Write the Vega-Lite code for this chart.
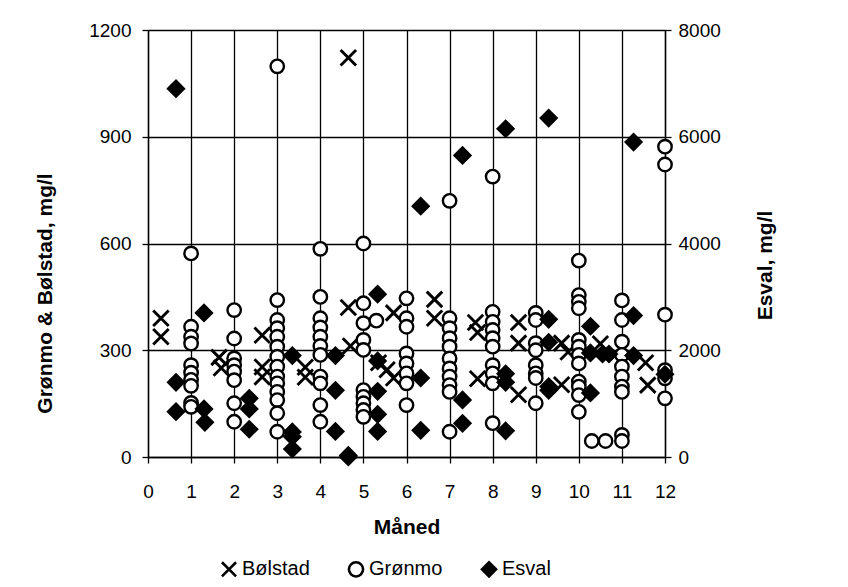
{
  "$schema": "https://vega.github.io/schema/vega-lite/v6.json",
  "width": 517,
  "height": 427,
  "autosize": {"type": "none"},
  "padding": {"left": 148, "top": 30, "right": 183, "bottom": 130},
  "background": "white",
  "config": {
    "font": "Liberation Sans",
    "view": {"stroke": null},
    "axis": {
      "labelFont": "Liberation Sans", "labelFontSize": 19, "labelColor": "black",
      "titleFont": "Liberation Sans", "titleFontSize": 21, "titleFontWeight": "bold", "titleColor": "black",
      "domainColor": "black", "domainWidth": 1.4, "tickColor": "black", "tickWidth": 1.3, "tickSize": 6,
      "gridColor": "black", "gridOpacity": 1, "gridWidth": 1.3
    },
    "legend": {
      "labelFont": "Liberation Sans", "labelFontSize": 20, "labelColor": "black",
      "symbolStrokeColor": "black", "symbolStrokeWidth": 2.5, "symbolSize": 200, "symbolOpacity": 1,
      "labelOffset": 3, "columnPadding": 33
    }
  },
  "datasets": {
    "pts": [
      {"series": "Bølstad", "month": 0.3, "value": 390},
      {"series": "Bølstad", "month": 0.3, "value": 338},
      {"series": "Bølstad", "month": 1.65, "value": 280},
      {"series": "Bølstad", "month": 1.7, "value": 250},
      {"series": "Bølstad", "month": 2.65, "value": 342},
      {"series": "Bølstad", "month": 2.65, "value": 253},
      {"series": "Bølstad", "month": 2.65, "value": 225},
      {"series": "Bølstad", "month": 3.65, "value": 252},
      {"series": "Bølstad", "month": 3.65, "value": 224},
      {"series": "Bølstad", "month": 4.65, "value": 1122},
      {"series": "Bølstad", "month": 4.65, "value": 420},
      {"series": "Bølstad", "month": 4.7, "value": 312},
      {"series": "Bølstad", "month": 5.35, "value": 265},
      {"series": "Bølstad", "month": 5.55, "value": 245},
      {"series": "Bølstad", "month": 5.7, "value": 405},
      {"series": "Bølstad", "month": 5.7, "value": 222},
      {"series": "Bølstad", "month": 6.65, "value": 443},
      {"series": "Bølstad", "month": 6.65, "value": 390},
      {"series": "Bølstad", "month": 7.6, "value": 378},
      {"series": "Bølstad", "month": 7.65, "value": 350},
      {"series": "Bølstad", "month": 7.65, "value": 220},
      {"series": "Bølstad", "month": 8.6, "value": 378},
      {"series": "Bølstad", "month": 8.6, "value": 320},
      {"series": "Bølstad", "month": 8.6, "value": 175},
      {"series": "Bølstad", "month": 9.6, "value": 320},
      {"series": "Bølstad", "month": 9.75, "value": 295},
      {"series": "Bølstad", "month": 9.6, "value": 203},
      {"series": "Bølstad", "month": 10.5, "value": 318},
      {"series": "Bølstad", "month": 11.55, "value": 265},
      {"series": "Bølstad", "month": 11.6, "value": 202},

      {"series": "Grønmo", "month": 1, "value": 572},
      {"series": "Grønmo", "month": 1, "value": 366},
      {"series": "Grønmo", "month": 1, "value": 338},
      {"series": "Grønmo", "month": 1, "value": 319},
      {"series": "Grønmo", "month": 1, "value": 258},
      {"series": "Grønmo", "month": 1, "value": 237},
      {"series": "Grønmo", "month": 1, "value": 217},
      {"series": "Grønmo", "month": 1, "value": 200},
      {"series": "Grønmo", "month": 1, "value": 152},
      {"series": "Grønmo", "month": 1, "value": 141},
      {"series": "Grønmo", "month": 2, "value": 413},
      {"series": "Grønmo", "month": 2, "value": 333},
      {"series": "Grønmo", "month": 2, "value": 277},
      {"series": "Grønmo", "month": 2, "value": 258},
      {"series": "Grønmo", "month": 2, "value": 240},
      {"series": "Grønmo", "month": 2, "value": 216},
      {"series": "Grønmo", "month": 2, "value": 151},
      {"series": "Grønmo", "month": 2, "value": 99},
      {"series": "Grønmo", "month": 3, "value": 1098},
      {"series": "Grønmo", "month": 3, "value": 441},
      {"series": "Grønmo", "month": 3, "value": 385},
      {"series": "Grønmo", "month": 3, "value": 362},
      {"series": "Grønmo", "month": 3, "value": 338},
      {"series": "Grønmo", "month": 3, "value": 310},
      {"series": "Grønmo", "month": 3, "value": 282},
      {"series": "Grønmo", "month": 3, "value": 254},
      {"series": "Grønmo", "month": 3, "value": 226},
      {"series": "Grønmo", "month": 3, "value": 207},
      {"series": "Grønmo", "month": 3, "value": 183},
      {"series": "Grønmo", "month": 3, "value": 160},
      {"series": "Grønmo", "month": 3, "value": 123},
      {"series": "Grønmo", "month": 3, "value": 71},
      {"series": "Grønmo", "month": 4, "value": 585},
      {"series": "Grønmo", "month": 4, "value": 450},
      {"series": "Grønmo", "month": 4, "value": 390},
      {"series": "Grønmo", "month": 4, "value": 364},
      {"series": "Grønmo", "month": 4, "value": 338},
      {"series": "Grønmo", "month": 4, "value": 312},
      {"series": "Grønmo", "month": 4, "value": 287},
      {"series": "Grønmo", "month": 4, "value": 226},
      {"series": "Grønmo", "month": 4, "value": 207},
      {"series": "Grønmo", "month": 4, "value": 146},
      {"series": "Grønmo", "month": 4, "value": 99},
      {"series": "Grønmo", "month": 5, "value": 600},
      {"series": "Grønmo", "month": 5, "value": 432},
      {"series": "Grønmo", "month": 5, "value": 376},
      {"series": "Grønmo", "month": 5, "value": 329},
      {"series": "Grønmo", "month": 5, "value": 301},
      {"series": "Grønmo", "month": 5, "value": 188},
      {"series": "Grønmo", "month": 5, "value": 169},
      {"series": "Grønmo", "month": 5, "value": 151},
      {"series": "Grønmo", "month": 5, "value": 132},
      {"series": "Grønmo", "month": 5, "value": 113},
      {"series": "Grønmo", "month": 5.3, "value": 383},
      {"series": "Grønmo", "month": 6, "value": 446},
      {"series": "Grønmo", "month": 6, "value": 390},
      {"series": "Grønmo", "month": 6, "value": 366},
      {"series": "Grønmo", "month": 6, "value": 291},
      {"series": "Grønmo", "month": 6, "value": 263},
      {"series": "Grønmo", "month": 6, "value": 235},
      {"series": "Grønmo", "month": 6, "value": 207},
      {"series": "Grønmo", "month": 6, "value": 146},
      {"series": "Grønmo", "month": 7, "value": 720},
      {"series": "Grønmo", "month": 7, "value": 390},
      {"series": "Grønmo", "month": 7, "value": 362},
      {"series": "Grønmo", "month": 7, "value": 334},
      {"series": "Grønmo", "month": 7, "value": 310},
      {"series": "Grønmo", "month": 7, "value": 277},
      {"series": "Grønmo", "month": 7, "value": 249},
      {"series": "Grønmo", "month": 7, "value": 226},
      {"series": "Grønmo", "month": 7, "value": 202},
      {"series": "Grønmo", "month": 7, "value": 183},
      {"series": "Grønmo", "month": 7, "value": 71},
      {"series": "Grønmo", "month": 8, "value": 788},
      {"series": "Grønmo", "month": 8, "value": 408},
      {"series": "Grønmo", "month": 8, "value": 380},
      {"series": "Grønmo", "month": 8, "value": 357},
      {"series": "Grønmo", "month": 8, "value": 334},
      {"series": "Grønmo", "month": 8, "value": 310},
      {"series": "Grønmo", "month": 8, "value": 258},
      {"series": "Grønmo", "month": 8, "value": 235},
      {"series": "Grønmo", "month": 8, "value": 207},
      {"series": "Grønmo", "month": 8, "value": 95},
      {"series": "Grønmo", "month": 9, "value": 405},
      {"series": "Grønmo", "month": 9, "value": 385},
      {"series": "Grønmo", "month": 9, "value": 320},
      {"series": "Grønmo", "month": 9, "value": 300},
      {"series": "Grønmo", "month": 9, "value": 258},
      {"series": "Grønmo", "month": 9, "value": 235},
      {"series": "Grønmo", "month": 9, "value": 222},
      {"series": "Grønmo", "month": 9, "value": 151},
      {"series": "Grønmo", "month": 10, "value": 552},
      {"series": "Grønmo", "month": 10, "value": 455},
      {"series": "Grønmo", "month": 10, "value": 436},
      {"series": "Grønmo", "month": 10, "value": 418},
      {"series": "Grønmo", "month": 10, "value": 329},
      {"series": "Grønmo", "month": 10, "value": 310},
      {"series": "Grønmo", "month": 10, "value": 287},
      {"series": "Grønmo", "month": 10, "value": 263},
      {"series": "Grønmo", "month": 10, "value": 212},
      {"series": "Grønmo", "month": 10, "value": 198},
      {"series": "Grønmo", "month": 10, "value": 174},
      {"series": "Grønmo", "month": 10, "value": 127},
      {"series": "Grønmo", "month": 10.3, "value": 45},
      {"series": "Grønmo", "month": 10.62, "value": 45},
      {"series": "Grønmo", "month": 11, "value": 440},
      {"series": "Grønmo", "month": 11, "value": 385},
      {"series": "Grønmo", "month": 11, "value": 324},
      {"series": "Grønmo", "month": 11, "value": 287},
      {"series": "Grønmo", "month": 11, "value": 254},
      {"series": "Grønmo", "month": 11, "value": 226},
      {"series": "Grønmo", "month": 11, "value": 198},
      {"series": "Grønmo", "month": 11, "value": 183},
      {"series": "Grønmo", "month": 11, "value": 62},
      {"series": "Grønmo", "month": 11, "value": 45},
      {"series": "Grønmo", "month": 12, "value": 872},
      {"series": "Grønmo", "month": 12, "value": 822},
      {"series": "Grønmo", "month": 12, "value": 400},
      {"series": "Grønmo", "month": 12, "value": 244},
      {"series": "Grønmo", "month": 12, "value": 221},
      {"series": "Grønmo", "month": 12, "value": 165},

      {"series": "Esval", "month": 0.65, "value": 6900},
      {"series": "Esval", "month": 0.65, "value": 1400},
      {"series": "Esval", "month": 0.65, "value": 850},
      {"series": "Esval", "month": 1.3, "value": 2700},
      {"series": "Esval", "month": 1.3, "value": 900},
      {"series": "Esval", "month": 1.32, "value": 650},
      {"series": "Esval", "month": 2.35, "value": 1100},
      {"series": "Esval", "month": 2.35, "value": 900},
      {"series": "Esval", "month": 2.35, "value": 520},
      {"series": "Esval", "month": 3.35, "value": 1900},
      {"series": "Esval", "month": 3.35, "value": 470},
      {"series": "Esval", "month": 3.35, "value": 380},
      {"series": "Esval", "month": 3.35, "value": 150},
      {"series": "Esval", "month": 4.35, "value": 1900},
      {"series": "Esval", "month": 4.35, "value": 1250},
      {"series": "Esval", "month": 4.35, "value": 480},
      {"series": "Esval", "month": 4.65, "value": 0},
      {"series": "Esval", "month": 4.65, "value": 30},
      {"series": "Esval", "month": 5.33, "value": 3050},
      {"series": "Esval", "month": 5.33, "value": 1800},
      {"series": "Esval", "month": 5.33, "value": 1230},
      {"series": "Esval", "month": 5.33, "value": 800},
      {"series": "Esval", "month": 5.33, "value": 480},
      {"series": "Esval", "month": 6.33, "value": 4700},
      {"series": "Esval", "month": 6.33, "value": 1480},
      {"series": "Esval", "month": 6.33, "value": 500},
      {"series": "Esval", "month": 7.3, "value": 5650},
      {"series": "Esval", "month": 7.3, "value": 1070},
      {"series": "Esval", "month": 7.3, "value": 630},
      {"series": "Esval", "month": 8.3, "value": 6150},
      {"series": "Esval", "month": 8.3, "value": 1560},
      {"series": "Esval", "month": 8.3, "value": 1400},
      {"series": "Esval", "month": 8.3, "value": 490},
      {"series": "Esval", "month": 9.3, "value": 6350},
      {"series": "Esval", "month": 9.3, "value": 2580},
      {"series": "Esval", "month": 9.3, "value": 2150},
      {"series": "Esval", "month": 9.3, "value": 1320},
      {"series": "Esval", "month": 9.3, "value": 1250},
      {"series": "Esval", "month": 10.27, "value": 2450},
      {"series": "Esval", "month": 10.27, "value": 1950},
      {"series": "Esval", "month": 10.27, "value": 1200},
      {"series": "Esval", "month": 10.55, "value": 1930},
      {"series": "Esval", "month": 10.7, "value": 1930},
      {"series": "Esval", "month": 11.27, "value": 5900},
      {"series": "Esval", "month": 11.27, "value": 2650},
      {"series": "Esval", "month": 11.27, "value": 1900},
      {"series": "Esval", "month": 12, "value": 1550}
    ]
  },
  "encoding": {
    "x": {
      "field": "month", "type": "quantitative",
      "scale": {"domain": [0, 12], "nice": false, "zero": false},
      "axis": {"values": [0,1,2,3,4,5,6,7,8,9,10,11,12], "format": "d", "title": "Måned", "grid": true, "labelPadding": 19, "labelFlush": false, "titleBaseline": "middle", "titleY": 70}
    },
    "shape": {
      "field": "series", "type": "nominal",
      "scale": {"domain": ["Bølstad", "Grønmo", "Esval"], "range": ["M-1,-1L1,1M1,-1L-1,1", "circle", "diamond"]},
      "legend": {"title": null, "orient": "none", "direction": "horizontal", "legendX": 71, "legendY": 529, "symbolStrokeColor": "black",
        "encode": {"symbols": {"update": {"stroke": {"value": "black"}, "strokeWidth": {"value": 2.6}}}}}
    },
    "fill": {
      "field": "series", "type": "nominal",
      "scale": {"domain": ["Bølstad", "Grønmo", "Esval"], "range": ["transparent", "white", "black"]},
      "legend": {"title": null, "orient": "none", "direction": "horizontal", "legendX": 71, "legendY": 529, "symbolStrokeColor": "black",
        "encode": {"symbols": {"update": {"stroke": {"value": "black"}, "strokeWidth": {"value": 2.6}}}}}
    },
    "size": {
      "condition": [
        {"test": "datum.series === 'Esval'", "value": 250},
        {"test": "datum.series === 'Bølstad'", "value": 240}
      ],
      "value": 180
    },
    "strokeWidth": {
      "condition": {"test": "datum.series === 'Bølstad'", "value": 2.9},
      "value": 2.4
    }
  },
  "layer": [
    {
      "data": {"name": "pts"},
      "transform": [{"filter": "datum.series !== 'Esval'"}],
      "mark": {"type": "point", "filled": true, "stroke": "black", "opacity": 1},
      "encoding": {
        "y": {
          "field": "value", "type": "quantitative",
          "scale": {"domain": [0, 1200], "nice": false},
          "axis": {"orient": "left", "values": [0,300,600,900,1200], "format": "d", "title": "Grønmo & Bølstad, mg/l", "grid": true, "labelPadding": 11, "labelFlush": false, "titleAngle": 270, "titleX": -103, "titleY": 263, "titleAlign": "center", "titleBaseline": "middle"}
        }
      }
    },
    {
      "data": {"name": "pts"},
      "transform": [{"filter": "datum.series === 'Esval'"}],
      "mark": {"type": "point", "filled": true, "stroke": "black", "opacity": 1},
      "encoding": {
        "y": {
          "field": "value", "type": "quantitative",
          "scale": {"domain": [0, 8000], "nice": false},
          "axis": {"orient": "right", "values": [0,2000,4000,6000,8000], "format": "d", "title": "Esval, mg/l", "grid": false, "labelPadding": 7, "labelFlush": false, "titleAngle": 270, "titleX": 100, "titleY": 235, "titleAlign": "center", "titleBaseline": "middle"}
        }
      }
    }
  ],
  "resolve": {"scale": {"y": "independent"}}
}
